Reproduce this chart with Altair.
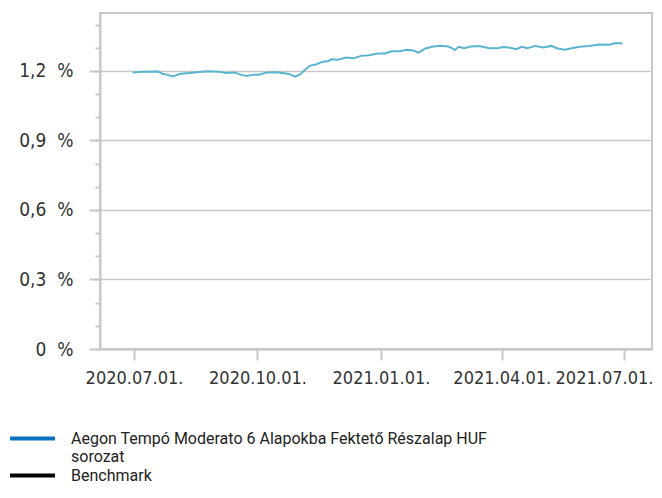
import altair as alt
import pandas as pd

dates = [
    "2020-06-30", "2020-07-07", "2020-07-19", "2020-07-22", "2020-07-26", "2020-07-30",
    "2020-08-04", "2020-08-09", "2020-08-15", "2020-08-25", "2020-09-02", "2020-09-07",
    "2020-09-14", "2020-09-19", "2020-09-23", "2020-09-28", "2020-10-02", "2020-10-08",
    "2020-10-14", "2020-10-20", "2020-10-25", "2020-10-29", "2020-11-02", "2020-11-05",
    "2020-11-09", "2020-11-14", "2020-11-18", "2020-11-23", "2020-11-25", "2020-11-30",
    "2020-12-06", "2020-12-12", "2020-12-17", "2020-12-23", "2020-12-30", "2021-01-04",
    "2021-01-09", "2021-01-15", "2021-01-20", "2021-01-25", "2021-01-29", "2021-02-03",
    "2021-02-09", "2021-02-14", "2021-02-19", "2021-02-22", "2021-02-25", "2021-02-28",
    "2021-03-04", "2021-03-09", "2021-03-15", "2021-03-23", "2021-03-29", "2021-04-02",
    "2021-04-06", "2021-04-12", "2021-04-16", "2021-04-20", "2021-04-26", "2021-05-02",
    "2021-05-08", "2021-05-12", "2021-05-18", "2021-05-23", "2021-05-29", "2021-06-05",
    "2021-06-13", "2021-06-20", "2021-06-25", "2021-06-30",
]
values = [
    1.193, 1.196, 1.197, 1.188, 1.183, 1.176,
    1.187, 1.190, 1.193, 1.199, 1.197, 1.191,
    1.193, 1.183, 1.178, 1.184, 1.184, 1.193,
    1.194, 1.191, 1.186, 1.175, 1.186, 1.203,
    1.222, 1.229, 1.239, 1.243, 1.250, 1.248,
    1.258, 1.255, 1.265, 1.268, 1.275, 1.275,
    1.285, 1.285, 1.291, 1.288, 1.279, 1.297,
    1.305, 1.309, 1.307, 1.301, 1.290, 1.304,
    1.298, 1.305, 1.308, 1.298, 1.298, 1.303,
    1.301, 1.294, 1.304, 1.298, 1.308, 1.301,
    1.308, 1.298, 1.292, 1.298, 1.304, 1.308,
    1.314, 1.313, 1.320, 1.318,
]
series_names = ["Aegon Tempó Moderato 6 Alapokba Fektető Részalap HUF sorozat", "Benchmark"]
legend_colors = ["#0a72c0", "#000000"]
major_ticks = [0, 0.3, 0.6, 0.9, 1.2]
minor_ticks = [0, 0.1, 0.2, 0.3, 0.4, 0.5, 0.6, 0.7, 0.8, 0.9, 1.0, 1.1, 1.2, 1.3, 1.4]
x_ticks = [(2020, 7), (2020, 10), (2021, 1), (2021, 4), (2021, 7)]

df = pd.DataFrame({"date": pd.to_datetime(dates), "value": values, "series": series_names[0]})

axis_font = "DejaVu Sans Condensed, DejaVu Sans"
grey = "#c8c8c8"

x_enc = alt.X(
    "date:T",
    scale=alt.Scale(domain=[alt.DateTime(year=2020, month=6, date=5, hours=16),
                            alt.DateTime(year=2021, month=7, date=21, hours=22, minutes=30)]),
    axis=alt.Axis(
        values=[alt.DateTime(year=y, month=m, date=1) for y, m in x_ticks],
        format="%Y.%m.%d.", title=None, grid=False,
        domainColor=grey, domainWidth=2, tickColor=grey, tickWidth=2, tickSize=11,
        labelFont=axis_font, labelFontSize=18, labelColor="#333333", labelPadding=9,
        labelFlush=31, labelFlushOffset=29,
    ),
)
y_scale = alt.Scale(domain=[0, 1.45], nice=False)

line = alt.Chart(df).mark_line(color="#5bb5cf", strokeWidth=2).encode(
    x=x_enc,
    y=alt.Y("value:Q", scale=y_scale, axis=alt.Axis(
        values=major_ticks, title=None, grid=True, gridColor=grey, gridWidth=1.5,
        domainColor=grey, domainWidth=2, tickColor=grey, tickWidth=2, tickSize=11,
        labelFont=axis_font, labelFontSize=19, labelColor="#333333", labelPadding=16,
        labelExpr="datum.value == 0 ? '0\u00a0\u00a0%' : replace(format(datum.value, '.1f'), '.', ',') + '\u00a0\u00a0%'",
    )),
)

minor = alt.Chart(df).mark_line(opacity=0).encode(
    x=x_enc,
    y=alt.Y("value:Q", scale=y_scale, axis=alt.Axis(
        orient="left", values=minor_ticks, title=None, grid=False, labels=False, domain=False,
        tickColor=grey, tickWidth=2, tickSize=5,
    )),
    color=alt.Color("series:N", scale=alt.Scale(domain=series_names, range=legend_colors),
                    legend=alt.Legend(
                        title=None, orient="none", legendX=-92, legendY=416,
                        symbolType="M-1,0H5", symbolSize=225, symbolStrokeWidth=4,
                        symbolOpacity=1, labelFont="Roboto", labelFontSize=16,
                        labelColor="#222222", labelLimit=0, labelOffset=44,
                        rowPadding=1, labelBaseline="middle", padding=0,
                        labelExpr="datum.label == 'Benchmark' ? 'Benchmark' : ['Aegon Tempó Moderato 6 Alapokba Fektető Részalap HUF', 'sorozat']",
                    )),
)

chart = alt.layer(line, minor).resolve_axis(y="independent").properties(
    width=552, height=336,
    autosize=alt.AutoSizeParams(type="none"),
    padding={"left": 92, "top": 5, "right": 2, "bottom": 136},
).configure_view(stroke=grey, strokeWidth=2)

chart.save("out.html", embed_options={"renderer": "svg", "actions": False})
